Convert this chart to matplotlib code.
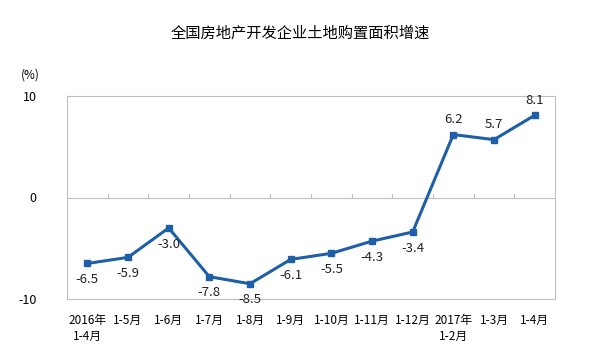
import matplotlib
matplotlib.use("Agg")
import matplotlib.pyplot as plt

plt.rcParams['font.family'] = ['Noto Sans CJK SC', 'DejaVu Sans']

months = ["2016年\n1-4月", "1-5月", "1-6月", "1-7月", "1-8月", "1-9月", "1-10月",
          "1-11月", "1-12月", "2017年\n1-2月", "1-3月", "1-4月"]
growth = [-6.5, -5.9, -3.0, -7.8, -8.5, -6.1, -5.5, -4.3, -3.4, 6.2, 5.7, 8.1]
label_above = [False] * 9 + [True] * 3

color = "#1f5fa8"
fig = plt.figure(figsize=(5.91, 3.56), dpi=100)
ax = fig.add_axes([67 / 591, 1 - 299 / 356, (555 - 67) / 591, (299 - 96) / 356])

x = list(range(len(months)))
ax.plot(x, growth, color=color, lw=2.2, marker="s", ms=4.5, mfc=color, mec=color)
for xi, v, up in zip(x, growth, label_above):
    ax.annotate(f"{v:.1f}", (xi, v), xytext=(0, 6 if up else -7), textcoords="offset points",
                ha="center", va="bottom" if up else "top", fontsize=9.5, color="#222222")

ax.set_xlim(-0.5, len(months) - 0.5)
ax.set_ylim(-10, 10)
ax.set_yticks([-10, 0, 10])
ax.set_yticklabels(["-10", "0", "10"])
ax.axhline(0, color="#bfbfbf", lw=0.8, zorder=0)
for xi in range(1, len(months)):
    ax.plot([xi - 0.5, xi - 0.5], [0, 0.35], color="#bfbfbf", lw=0.8, zorder=0)

ax.set_xticks(x)
ax.set_xticklabels(months, fontsize=8.5, linespacing=1.3)
ax.tick_params(axis="x", length=0, pad=11)
ax.tick_params(axis="y", length=0, pad=22, labelsize=9)
for s in ax.spines.values():
    s.set_color("#bfbfbf")
    s.set_linewidth(0.8)

fig.text(300 / 591, 1 - 33 / 356, "全国房地产开发企业土地购置面积增速", ha="center", va="center", fontsize=11)
fig.text(30 / 591, 1 - 75 / 356, "(%)", ha="center", va="center", fontsize=8.5)

fig.savefig("out.png", dpi=100)
